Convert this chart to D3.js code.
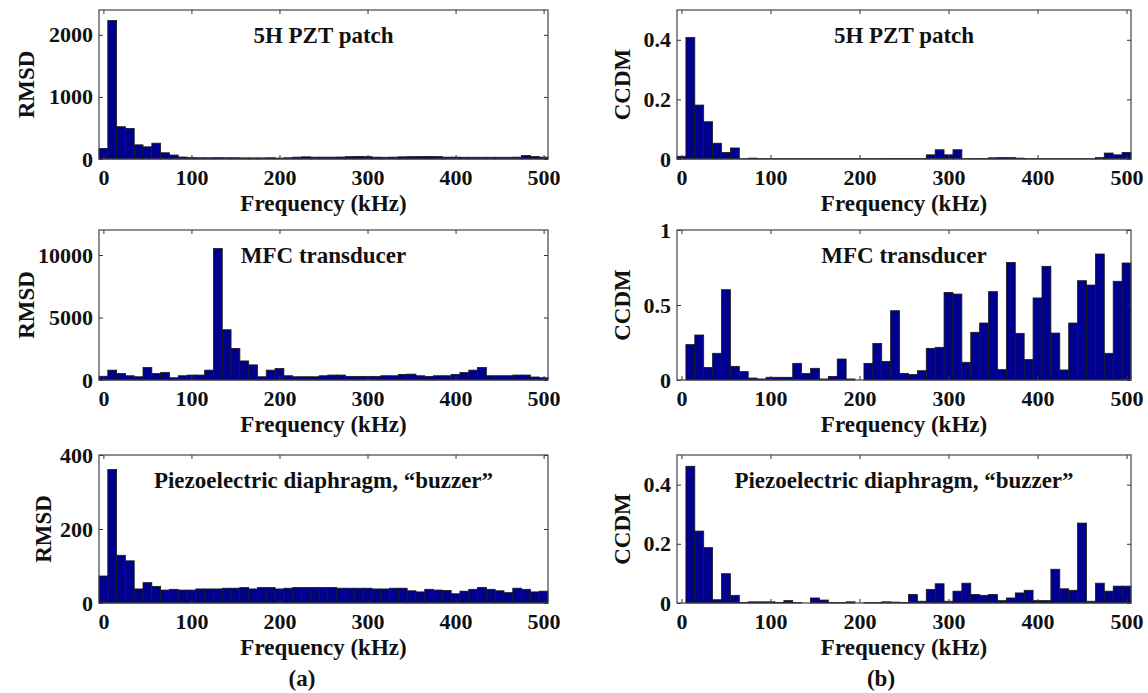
<!DOCTYPE html>
<html>
<head>
<meta charset="utf-8">
<script src="https://cdn.jsdelivr.net/npm/d3@7"></script>
<style>
  body { margin: 0; background: #fff; }
  svg text { font-family: "Liberation Serif", "Times New Roman", serif; font-weight: bold; fill: #111; }
  .tick line { stroke: #333; }
</style>
</head>
<body>
<script>
// frequencies of the bars (kHz)
var freq = [0, 10, 20, 30, 40, 50, 60, 70, 80, 90,
            100, 110, 120, 130, 140, 150, 160, 170, 180, 190,
            200, 210, 220, 230, 240, 250, 260, 270, 280, 290,
            300, 310, 320, 330, 340, 350, 360, 370, 380, 390,
            400, 410, 420, 430, 440, 450, 460, 470, 480, 490, 500];

var freqTicks = [0, 100, 200, 300, 400, 500];

// (a) RMSD
var rmsdPZT = [170, 2230, 520, 493, 228, 196, 255, 100, 64, 32,
               22, 20, 20, 22, 20, 20, 18, 18, 18, 20,
               15, 20, 30, 35, 30, 30, 30, 32, 38, 42,
               38, 30, 28, 30, 35, 38, 40, 40, 38, 30,
               30, 28, 28, 28, 28, 28, 28, 30, 55, 40, 30];

var rmsdMFC = [300, 790, 525, 340, 260, 1000, 525, 600, 180, 340,
               395, 395, 790, 10520, 4020, 2525, 1525, 1210, 260, 790,
               920, 340, 260, 260, 260, 340, 395, 395, 290, 290,
               290, 290, 340, 340, 450, 470, 340, 290, 340, 340,
               450, 600, 790, 1000, 340, 340, 340, 395, 395, 240, 180];

var rmsdBuzzer = [73, 361, 129, 114, 38, 55, 45, 35, 37, 35,
                  35, 38, 38, 38, 40, 40, 42, 38, 42, 42,
                  38, 40, 42, 42, 42, 42, 42, 40, 40, 40,
                  40, 38, 38, 40, 40, 33, 30, 37, 35, 34,
                  25, 32, 37, 42, 37, 33, 28, 40, 37, 30, 32];

// (b) CCDM
var ccdmPZT = [0.009, 0.408, 0.181, 0.125, 0.053, 0.022, 0.037, 0.001, 0.003, 0.001,
               0.001, 0.001, 0.001, 0.001, 0.001, 0.001, 0.001, 0.001, 0.001, 0.001,
               0.001, 0.001, 0.001, 0.002, 0.002, 0.002, 0.002, 0.002, 0.014, 0.031,
               0.014, 0.031, 0.001, 0.002, 0.002, 0.004, 0.005, 0.005, 0.003, 0.001,
               0.001, 0.001, 0.001, 0.001, 0.001, 0.001, 0.001, 0.005, 0.02, 0.014, 0.022];

var ccdmMFC = [0, 0.236, 0.30, 0.084, 0.178, 0.602, 0.091, 0.056, 0.013, 0.007,
               0.018, 0.018, 0.018, 0.111, 0.044, 0.078, 0.007, 0.024, 0.14, 0.007,
               0, 0.111, 0.244, 0.124, 0.462, 0.044, 0.036, 0.062, 0.211, 0.218,
               0.584, 0.573, 0.118, 0.318, 0.38, 0.589, 0.069, 0.784, 0.311, 0.136,
               0.547, 0.758, 0.313, 0.067, 0.38, 0.662, 0.633, 0.84, 0.178, 0.658, 0.78];

var ccdmBuzzer = [0, 0.462, 0.243, 0.187, 0.011, 0.099, 0.026, 0.002, 0.004, 0.004,
                  0.004, 0.002, 0.008, 0.002, 0, 0.017, 0.01, 0.002, 0.002, 0.004,
                  0, 0.002, 0.002, 0.004, 0.003, 0.002, 0.029, 0.006, 0.046, 0.065,
                  0.006, 0.04, 0.067, 0.029, 0.026, 0.029, 0.008, 0.017, 0.034, 0.043,
                  0.008, 0.008, 0.114, 0.048, 0.043, 0.27, 0.006, 0.067, 0.04, 0.057, 0.057];

var titles = ["5H PZT patch", "MFC transducer", "Piezoelectric diaphragm, \u201cbuzzer\u201d"];

var svg = d3.select("body").append("svg")
    .attr("width", 1148)
    .attr("height", 693);

// panel boxes
var cols = [{left: 99, right: 548, ylab: [34, 34, 51], tag: "(a)", tagX: 302},
            {left: 677, right: 1131, ylab: [630, 630, 630], tag: "(b)", tagX: 881}];
var rows = [{top: 10, bottom: 159}, {top: 230, bottom: 380}, {top: 455, bottom: 603}];

function drawPanel(c, r, values, yMax, yTicks, yName, title) {
  var col = cols[c], row = rows[r];

  var x = d3.scaleLinear().domain([-5, 505]).range([col.left, col.right]);
  var y = d3.scaleLinear().domain([0, yMax]).range([row.bottom, row.top]);

  var data = freq.map(function(f, i) { return {f: f, v: values[i]}; });

  var g = svg.append("g");

  // bars
  g.selectAll("rect.bar")
    .data(data)
    .enter()
    .append("rect")
    .attr("class", "bar")
    .attr("x", function(d) { return x(d.f - 5); })
    .attr("width", function(d) { return x(d.f + 5) - x(d.f - 5); })
    .attr("y", function(d) { return y(d.v); })
    .attr("height", function(d) { return y(0) - y(d.v); })
    .attr("fill", "#00008f")
    .attr("stroke", "#1a1a1a")
    .attr("stroke-width", 0.8);

  // axes, ticks pointing inward
  var bottom = g.append("g")
    .attr("transform", "translate(0," + row.bottom + ")")
    .call(d3.axisBottom(x).tickValues(freqTicks).tickSizeInner(-4).tickSizeOuter(0).tickPadding(10));
  bottom.selectAll("text").style("font-size", "22px");

  g.append("g")
    .attr("transform", "translate(0," + row.top + ")")
    .call(d3.axisTop(x).tickValues(freqTicks).tickSizeInner(-4).tickSizeOuter(0).tickFormat(""));

  var left = g.append("g")
    .attr("transform", "translate(" + col.left + ",0)")
    .call(d3.axisLeft(y).tickValues(yTicks).tickSizeInner(-4).tickSizeOuter(0).tickPadding(6)
      .tickFormat(function(d) { return String(d); }));
  left.selectAll("text").style("font-size", "22px");

  g.append("g")
    .attr("transform", "translate(" + col.right + ",0)")
    .call(d3.axisRight(y).tickValues(yTicks).tickSizeInner(-4).tickSizeOuter(0).tickFormat(""));

  g.selectAll(".domain").remove();

  // box
  g.append("rect")
    .attr("x", col.left)
    .attr("y", row.top)
    .attr("width", col.right - col.left)
    .attr("height", row.bottom - row.top)
    .attr("fill", "none")
    .attr("stroke", "#444")
    .attr("stroke-width", 1.2);

  // title inside
  g.append("text")
    .attr("x", (col.left + col.right) / 2)
    .attr("y", row.top + 33)
    .attr("text-anchor", "middle")
    .style("font-size", "23px")
    .text(title);

  // axis labels
  g.append("text")
    .attr("x", (col.left + col.right) / 2)
    .attr("y", row.bottom + 52)
    .attr("text-anchor", "middle")
    .style("font-size", "23px")
    .text("Frequency (kHz)");

  g.append("text")
    .attr("transform", "translate(" + col.ylab[r] + "," + (row.top + row.bottom) / 2 + ") rotate(-90)")
    .attr("text-anchor", "middle")
    .style("font-size", "23px")
    .text(yName);
}

drawPanel(0, 0, rmsdPZT, 2400, [0, 1000, 2000], "RMSD", titles[0]);
drawPanel(0, 1, rmsdMFC, 12000, [0, 5000, 10000], "RMSD", titles[1]);
drawPanel(0, 2, rmsdBuzzer, 400, [0, 200, 400], "RMSD", titles[2]);
drawPanel(1, 0, ccdmPZT, 0.5, [0, 0.2, 0.4], "CCDM", titles[0]);
drawPanel(1, 1, ccdmMFC, 1, [0, 0.5, 1], "CCDM", titles[1]);
drawPanel(1, 2, ccdmBuzzer, 0.5, [0, 0.2, 0.4], "CCDM", titles[2]);

// sub-figure tags
cols.forEach(function(col) {
  svg.append("text")
    .attr("x", col.tagX)
    .attr("y", 686)
    .attr("text-anchor", "middle")
    .style("font-size", "23px")
    .text(col.tag);
});
</script>
</body>
</html>
